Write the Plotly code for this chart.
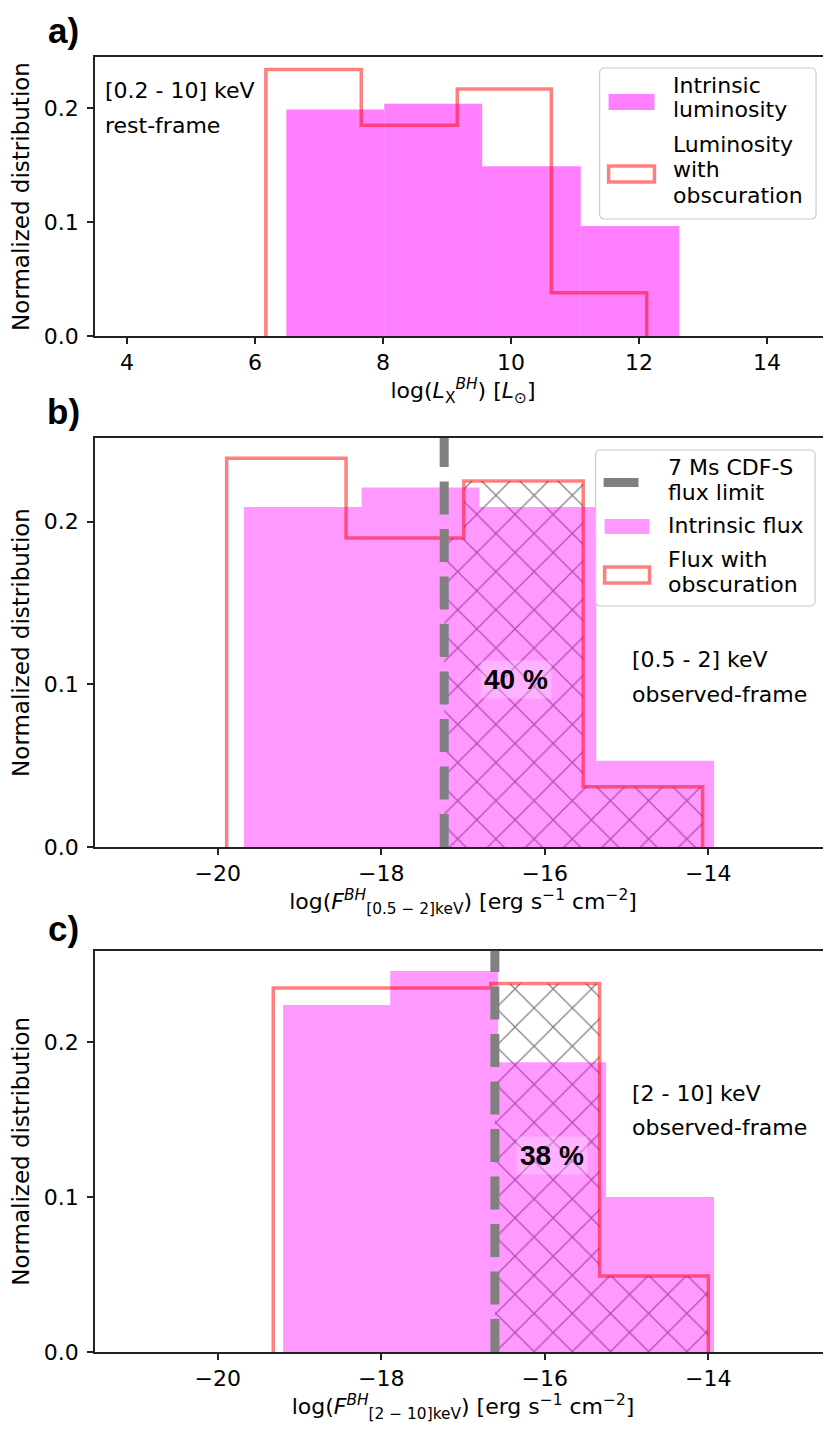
import plotly.graph_objects as go

# ---------------- data ----------------
a_intr_edges = [6.49, 8.02, 9.55, 11.09, 12.63]
a_intr_vals = [0.199, 0.204, 0.149, 0.0965]
a_obsc_edges = [6.17, 7.66, 9.16, 10.63, 12.12]
a_obsc_vals = [0.234, 0.185, 0.217, 0.038]

b_intr_edges = [-19.68, -18.24, -16.80, -15.37, -13.93]
b_intr_vals = [0.209, 0.221, 0.209, 0.053]
b_obsc_edges = [-19.89, -18.43, -16.99, -15.53, -14.07]
b_obsc_vals = [0.239, 0.190, 0.225, 0.037]
b_limit = -17.23
b_percent = "40 %"

c_intr_edges = [-19.20, -17.89, -16.57, -15.25, -13.93]
c_intr_vals = [0.224, 0.246, 0.187, 0.100]
c_obsc_edges = [-19.32, -17.99, -16.66, -15.33, -14.00]
c_obsc_vals = [0.235, 0.235, 0.238, 0.049]
c_limit = -16.61
c_percent = "38 %"

a_xticks = [4, 6, 8, 10, 12, 14]
bc_xticks = [-20, -18, -16, -14]
y_ticks = [0.0, 0.1, 0.2]

# ---------------- geometry ----------------
W, H = 831, 1432
ML, MR, MT, MB = 87, 6, 49, 88


def px(x):
    return (x - ML) / (W - ML - MR)


def py(y):
    return (H - MB - y) / (H - MT - MB)


def clamp(v):
    return min(1.0, max(0.0, v))


FONT = "DejaVu Sans"
MAG_A = "rgba(255,0,255,0.5)"
MAG_BC = "rgba(255,0,255,0.4)"
RED = "rgba(255,0,0,0.5)"
GRAY = "#808080"

fig = go.Figure()


def add_panel(k, intr_edges, intr_vals, obsc_edges, obsc_vals, limit, mag):
    xa = "x" if k == 1 else f"x{k}"
    ya = "y" if k == 1 else f"y{k}"
    # hatched region of obscured histogram above flux limit
    if limit is not None:
        hl, hw, hv = [], [], []
        for i, v in enumerate(obsc_vals):
            l, r = obsc_edges[i], obsc_edges[i + 1]
            if r > limit:
                l = max(l, limit)
                hl.append(l)
                hw.append(r - l)
                hv.append(v)
        fig.add_trace(go.Bar(
            x=hl, y=hv, width=hw, offset=0, xaxis=xa, yaxis=ya,
            marker=dict(color=GRAY, line=dict(width=0),
                        pattern=dict(shape="x", fillmode="replace", fgcolor=GRAY,
                                     bgcolor="rgba(0,0,0,0)", size=27, solidity=0.09)),
            showlegend=False, hoverinfo="skip"))
    # intrinsic histogram
    lefts = intr_edges[:-1]
    widths = [intr_edges[i + 1] - intr_edges[i] for i in range(len(intr_vals))]
    fig.add_trace(go.Bar(
        x=lefts, y=intr_vals, width=widths, offset=0, xaxis=xa, yaxis=ya,
        marker=dict(color=mag, line=dict(width=0)),
        showlegend=False, hoverinfo="skip"))
    # obscured step histogram
    xs, ys = [obsc_edges[0]], [0]
    for i, v in enumerate(obsc_vals):
        xs += [obsc_edges[i], obsc_edges[i + 1]]
        ys += [v, v]
    xs.append(obsc_edges[-1])
    ys.append(0)
    fig.add_trace(go.Scatter(
        x=xs, y=ys, mode="lines", xaxis=xa, yaxis=ya,
        line=dict(color=RED, width=3.5), showlegend=False, hoverinfo="skip"))
    if limit is not None:
        fig.add_shape(type="line", xref=xa, yref=f"{ya} domain",
                      x0=limit, x1=limit, y0=0, y1=1, layer="above",
                      line=dict(color=GRAY, width=9, dash="33px,14.5px"))


add_panel(1, a_intr_edges, a_intr_vals, a_obsc_edges, a_obsc_vals, None, MAG_A)
add_panel(2, b_intr_edges, b_intr_vals, b_obsc_edges, b_obsc_vals, b_limit, MAG_BC)
add_panel(3, c_intr_edges, c_intr_vals, c_obsc_edges, c_obsc_vals, c_limit, MAG_BC)

axis_common = dict(showgrid=False, zeroline=False, showline=True, linecolor="#222",
                   linewidth=1.5, mirror=True, ticks="outside", ticklen=6, tickwidth=1.5,
                   tickcolor="#222", tickfont=dict(family=FONT, size=22, color="black"))

yt = dict(tickvals=y_ticks, ticktext=[f"{v:.1f}" for v in y_ticks], ticklabelstandoff=4,
          automargin=True,
          title=dict(text="Normalized distribution", font=dict(family=FONT, size=23, color="black"),
                     standoff=9))

doms = [(py(328), py(49)), (py(839), py(430)), (py(1344.3), py(942.7))]
doms = [(clamp(a), clamp(b)) for a, b in doms]
yr = [0.245, 0.2514, 0.2591]
xtitles = [
    "log(<i>L</i><sub>X</sub><sup><i>BH</i></sup>) [<i>L</i><sub>⊙</sub>]",
    "log(<i>F</i><sup><i>BH</i></sup><sub>[0.5 − 2]keV</sub>) [erg s<sup>−1</sup> cm<sup>−2</sup>]",
    "log(<i>F</i><sup><i>BH</i></sup><sub>[2 − 10]keV</sub>) [erg s<sup>−1</sup> cm<sup>−2</sup>]",
]
layout = dict(width=W, height=H, margin=dict(l=ML, r=MR, t=MT, b=MB),
              plot_bgcolor="white", paper_bgcolor="white", barmode="overlay",
              font=dict(family=FONT, size=22, color="black"))
for k in range(3):
    sx = "xaxis" if k == 0 else f"xaxis{k+1}"
    sy = "yaxis" if k == 0 else f"yaxis{k+1}"
    anc_x = "y" if k == 0 else f"y{k+1}"
    anc_y = "x" if k == 0 else f"x{k+1}"
    xr = [3.5, 15] if k == 0 else [-21.5, -12.5]
    tv = a_xticks if k == 0 else bc_xticks
    layout[sx] = dict(axis_common, domain=[0, 1], anchor=anc_x, range=xr, tickvals=tv,
                      ticktext=[str(t).replace("-", "−") for t in tv],
                      title=dict(text=xtitles[k], font=dict(family=FONT, size=22, color="black"),
                                 standoff=8))
    layout[sy] = dict(axis_common, **yt, domain=list(doms[k]), anchor=anc_y, range=[0, yr[k]])
fig.update_layout(**layout)

ann = []


def txt(t, x, y, size=22, xanchor="left", family=FONT, **kw):
    ann.append(dict(text=t, x=px(x), y=py(y), xref="paper", yref="paper", showarrow=False,
                    xanchor=xanchor, yanchor="middle",
                    font=dict(family=family, size=size, color="black"), **kw))


# panel labels
txt("<b>a)</b>", 55, 22, size=35, xanchor="center", family="Liberation Sans")
txt("<b>b)</b>", 55, 403, size=35, xanchor="center", family="Liberation Sans")
txt("<b>c)</b>", 55, 921, size=35, xanchor="center", family="Liberation Sans")

# in-panel texts
txt("[0.2 - 10] keV", 95, 82)
txt("rest-frame", 95, 117)
txt("[0.5 - 2] keV", 623, 651)
txt("observed-frame", 623, 686)
txt("[2 - 10] keV", 623, 1085)
txt("observed-frame", 623, 1119)
txt(f"<b>{b_percent}</b>", 509, 671, size=28, xanchor="center", family="Liberation Sans",
    bgcolor="rgba(255,255,255,0.25)", borderpad=3)
txt(f"<b>{c_percent}</b>", 545, 1147, size=28, xanchor="center", family="Liberation Sans",
    bgcolor="rgba(255,255,255,0.25)", borderpad=3)

# legend texts
txt("Intrinsic", 665, 77)
txt("luminosity", 665, 102)
txt("Luminosity", 665, 136)
txt("with", 665, 162)
txt("obscuration", 665, 187)

txt("7 Ms CDF-S", 660, 459)
txt("flux limit", 660, 484)
txt("Intrinsic flux", 660, 517)
txt("Flux with", 660, 551)
txt("obscuration", 660, 576)

fig.update_layout(annotations=ann)


def rrect(x0, y0, x1, y1, r=5):
    rx = r / (W - ML - MR)
    ry = r / (H - MT - MB)
    X0, X1 = px(x0), px(x1)
    Y0, Y1 = py(y1), py(y0)  # bottom, top
    return (f"M {X0+rx},{Y1} L {X1-rx},{Y1} Q {X1},{Y1} {X1},{Y1-ry} "
            f"L {X1},{Y0+ry} Q {X1},{Y0} {X1-rx},{Y0} L {X0+rx},{Y0} "
            f"Q {X0},{Y0} {X0},{Y0+ry} L {X0},{Y1-ry} Q {X0},{Y1} {X0+rx},{Y1} Z")


def pshape(**kw):
    fig.add_shape(xref="paper", yref="paper", layer="above", **kw)


# legend a
pshape(type="path", path=rrect(593, 60, 810, 211),
       fillcolor="rgba(255,255,255,0.8)", line=dict(color="#cccccc", width=1.2))
pshape(type="rect", x0=px(602), x1=px(648), y0=py(102), y1=py(86),
       fillcolor=MAG_A, line=dict(width=0))
pshape(type="rect", x0=px(602), x1=px(648), y0=py(174), y1=py(158),
       fillcolor="white", line=dict(color=RED, width=3.5))

# legend b
pshape(type="path", path=rrect(589, 442, 809, 598),
       fillcolor="rgba(255,255,255,0.8)", line=dict(color="#cccccc", width=1.2))
pshape(type="line", x0=px(597), x1=px(632), y0=py(474.5), y1=py(474.5),
       line=dict(color=GRAY, width=9))
pshape(type="rect", x0=px(598), x1=px(643), y0=py(526), y1=py(511),
       fillcolor=MAG_BC, line=dict(width=0))
pshape(type="rect", x0=px(598), x1=px(643), y0=py(575), y1=py(559),
       fillcolor="white", line=dict(color=RED, width=3.5))

fig.write_html("out.html")
